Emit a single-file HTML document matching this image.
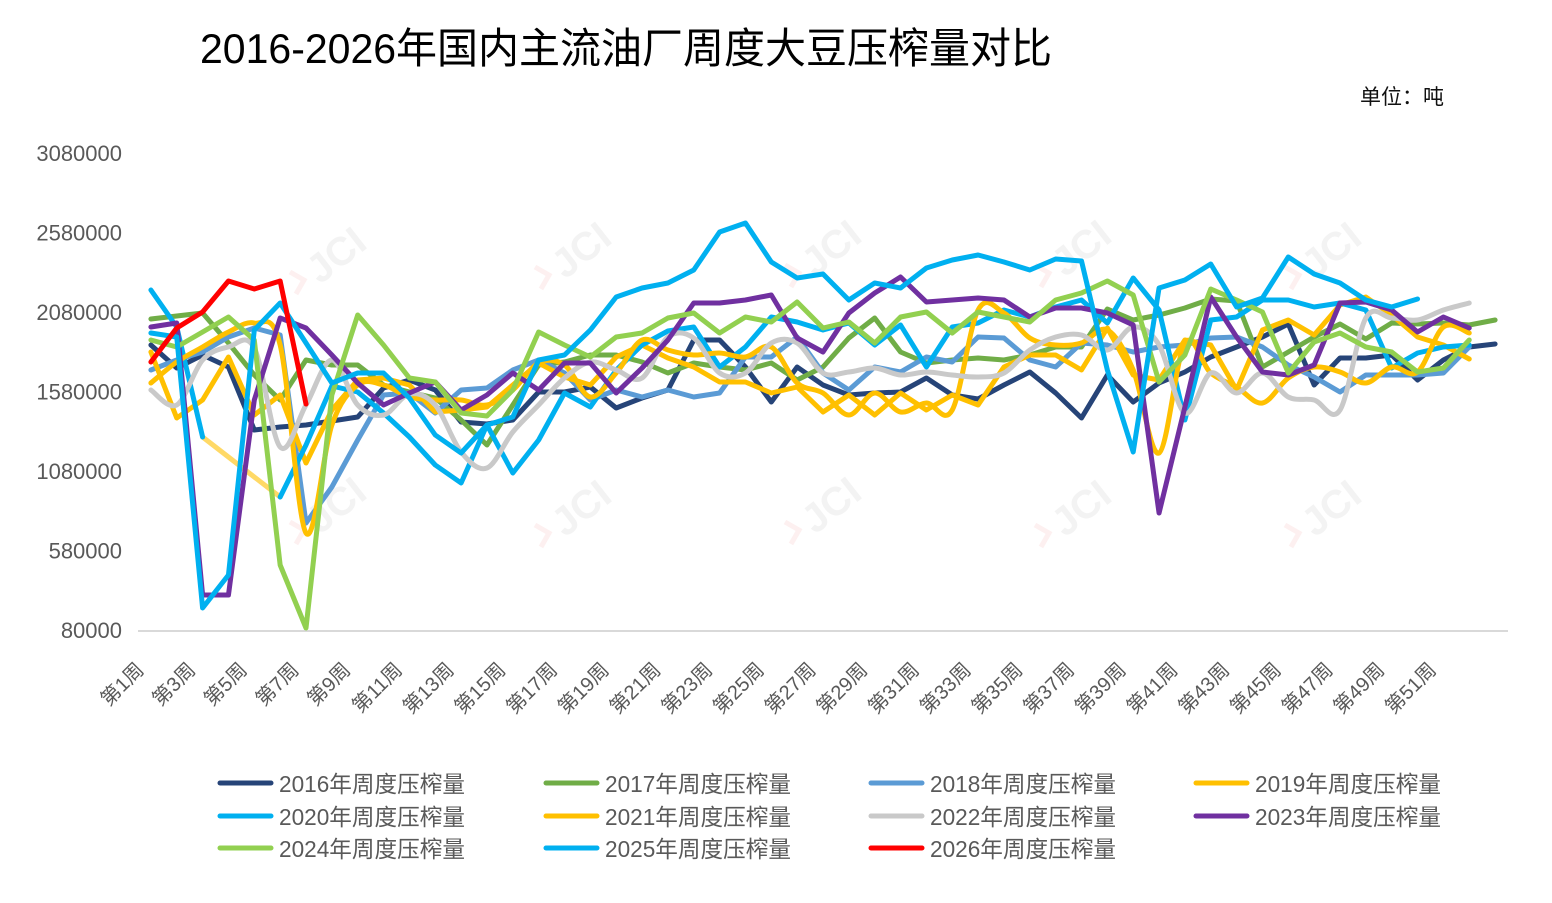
<!DOCTYPE html>
<html>
<head>
<meta charset="utf-8">
<style>
html,body{margin:0;padding:0;background:#fff;}
svg{display:block;}
text{font-family:"Liberation Sans","Noto Sans CJK SC",sans-serif;}
</style>
</head>
<body>
<svg width="1552" height="903" viewBox="0 0 1552 903" xmlns="http://www.w3.org/2000/svg">
<rect x="0" y="0" width="1552" height="903" fill="#fff"/>

<!-- Title -->
<text x="200" y="63" font-size="42" fill="#000" textLength="852" lengthAdjust="spacingAndGlyphs">2016-2026年国内主流油厂周度大豆压榨量对比</text>
<text x="1360" y="104" font-size="21" fill="#111">单位：吨</text>

<!-- watermarks -->
<g fill="#f3f3f3" font-size="40" font-weight="bold">
<text transform="translate(320,285) rotate(-38)">JCI</text>
<text transform="translate(565,280) rotate(-38)">JCI</text>
<text transform="translate(815,278) rotate(-38)">JCI</text>
<text transform="translate(1065,278) rotate(-38)">JCI</text>
<text transform="translate(1315,280) rotate(-38)">JCI</text>
<text transform="translate(320,535) rotate(-38)">JCI</text>
<text transform="translate(565,538) rotate(-38)">JCI</text>
<text transform="translate(815,535) rotate(-38)">JCI</text>
<text transform="translate(1065,538) rotate(-38)">JCI</text>
<text transform="translate(1315,538) rotate(-38)">JCI</text>
</g>
<g fill="none" stroke="#fdf0f0" stroke-width="5">
<path d="M290,272 l14,8 l-8,14"/><path d="M535,267 l14,8 l-8,14"/><path d="M785,265 l14,8 l-8,14"/><path d="M1035,265 l14,8 l-8,14"/><path d="M1285,267 l14,8 l-8,14"/>
<path d="M290,522 l14,8 l-8,14"/><path d="M535,525 l14,8 l-8,14"/><path d="M785,522 l14,8 l-8,14"/><path d="M1035,525 l14,8 l-8,14"/><path d="M1285,525 l14,8 l-8,14"/>
</g>

<!-- Y axis labels -->
<g font-size="22" fill="#595959" text-anchor="end">
<text x="122" y="161">3080000</text>
<text x="122" y="240.5">2580000</text>
<text x="122" y="320">2080000</text>
<text x="122" y="399.5">1580000</text>
<text x="122" y="479">1080000</text>
<text x="122" y="558.5">580000</text>
<text x="122" y="638">80000</text>
</g>

<!-- X axis line -->
<line x1="138" y1="631" x2="1508" y2="631" stroke="#d9d9d9" stroke-width="2"/>

<!-- X labels -->
<g font-size="20" fill="#595959" text-anchor="end">
<text transform="translate(145,671) rotate(-45)">第1周</text>
<text transform="translate(196.6,671) rotate(-45)">第3周</text>
<text transform="translate(248.3,671) rotate(-45)">第5周</text>
<text transform="translate(300,671) rotate(-45)">第7周</text>
<text transform="translate(351.7,671) rotate(-45)">第9周</text>
<text transform="translate(403.4,671) rotate(-45)">第11周</text>
<text transform="translate(455.1,671) rotate(-45)">第13周</text>
<text transform="translate(506.8,671) rotate(-45)">第15周</text>
<text transform="translate(558.5,671) rotate(-45)">第17周</text>
<text transform="translate(610.2,671) rotate(-45)">第19周</text>
<text transform="translate(661.9,671) rotate(-45)">第21周</text>
<text transform="translate(713.6,671) rotate(-45)">第23周</text>
<text transform="translate(765.3,671) rotate(-45)">第25周</text>
<text transform="translate(817,671) rotate(-45)">第27周</text>
<text transform="translate(868.7,671) rotate(-45)">第29周</text>
<text transform="translate(920.4,671) rotate(-45)">第31周</text>
<text transform="translate(972.1,671) rotate(-45)">第33周</text>
<text transform="translate(1023.8,671) rotate(-45)">第35周</text>
<text transform="translate(1075.5,671) rotate(-45)">第37周</text>
<text transform="translate(1127.2,671) rotate(-45)">第39周</text>
<text transform="translate(1178.9,671) rotate(-45)">第41周</text>
<text transform="translate(1230.6,671) rotate(-45)">第43周</text>
<text transform="translate(1282.3,671) rotate(-45)">第45周</text>
<text transform="translate(1334,671) rotate(-45)">第47周</text>
<text transform="translate(1385.7,671) rotate(-45)">第49周</text>
<text transform="translate(1437.4,671) rotate(-45)">第51周</text>
</g>

<!-- Series -->
<g transform="translate(125.05,0) scale(25.85,1)" fill="none" stroke-linejoin="round" stroke-linecap="round">
<polyline vector-effect="non-scaling-stroke" stroke="#264478" stroke-width="5" points="1,345 2,368 3,355 4,367 5,430 6,427 7,425 8,421 9,417 10,388 11,380 12,390 13,422 14,424 15,420 16,392 17,392 18,387 19,408 20,398 21,390 22,340 23,340 24,367 25,402 26,367 27,385 28,395 29,393 30,392 31,378 32,395 33,399 34,385 35,372 36,393 37,418 38,375 39,402 40,383 41,372 42,357 43,347 44,337 45,324 46,385 47,358 48,358 49,355 50,380 51,360 52,347 53,344"/>
<polyline vector-effect="non-scaling-stroke" stroke="#70AD47" stroke-width="5" points="1,319 2,316 3,313 4,343 5,375 6,400 7,360 8,365 9,365 10,385 11,392 12,398 13,420 14,445 15,405 16,365 17,362 18,355 19,355 20,362 21,373 22,363 23,367 24,370 25,363 26,380 27,367 28,338 29,318 30,352 31,363 32,360 33,358 34,360 35,355 36,347 37,347 38,309 39,320 40,315 41,308 42,299 43,301 44,367 45,352 46,337 47,324 48,339 49,323 50,324 51,323 52,325 53,320"/>
<polyline vector-effect="non-scaling-stroke" stroke="#5B9BD5" stroke-width="5" points="1,370 2,360 3,352 4,337 5,328 6,335 7,523 8,487 9,440 10,395 11,393 12,413 13,390 14,388 15,370 16,360 17,373 18,400 19,390 20,397 21,390 22,397 23,393 24,357 25,357 26,337 27,373 28,390 29,367 30,372 31,357 32,362 33,337 34,338 35,360 36,367 37,343 38,345 39,352 40,347 41,345 42,338 43,337 44,347 45,365 46,377 47,392 48,375 49,375 50,375 51,373 52,347"/>
<polyline vector-effect="non-scaling-stroke" stroke="#FFC000" stroke-width="5" points="1,352 2,418 3,400 4,357 5,415 6,395 7,463 8,410 9,380 10,378 11,385 12,412 13,410 14,407 15,385 16,363 17,377 18,385 19,357 20,345 21,358 22,367 23,382 24,382 25,393 26,387 27,412 28,395 29,415 30,393 31,410 32,395 33,405 34,367 35,355 36,355 37,370 38,328 39,375 40,380 41,340 42,345 43,390 44,330 45,320 46,335 47,305 48,297 49,315 50,337 51,345 52,359"/>
<polyline vector-effect="non-scaling-stroke" stroke="#FFD966" stroke-width="5" points="3,437 6,497"/>
<polyline vector-effect="non-scaling-stroke" stroke="#00B0F0" stroke-width="5" points="1,290 2,327 3,437"/>
<polyline vector-effect="non-scaling-stroke" stroke="#00B0F0" stroke-width="5" points="6,497 7,445 8,386 9,392 10,413 11,437 12,465 13,483 14,425 15,473 16,440 17,393 18,407 19,370 20,345 21,331 22,327 23,367 24,347 25,317 26,322 27,330 28,323 29,345 30,325 31,367 32,327 33,323 34,310 35,317 36,307 37,300 38,323 39,278 40,310 41,420 42,320 43,317 44,300 45,300 46,307 47,303 48,310 49,368 50,353 51,347 52,345"/>
<polyline class="sm" vector-effect="non-scaling-stroke" stroke="#FFC000" stroke-width="5" points="1,383 2,362 3,347 4,332 5,323 6,345 7,533 8,425 9,385 10,385 11,397 12,400 13,400 14,405 15,390 16,363 17,365 18,397 19,373 20,340 21,350 22,355 23,353 24,357 25,347 26,383 27,393 28,415 29,393 30,412 31,403 32,410 33,310 34,313 35,338 36,345 37,343 38,330 39,370 40,453 41,343 42,373 43,387 44,403 45,378 46,367 47,372 48,383 49,367 50,372 51,327 52,333"/>
<polyline class="sm" vector-effect="non-scaling-stroke" stroke="#C9C9C9" stroke-width="5" points="1,390 2,405 3,360 4,347 5,348 6,447 7,405 8,360 9,405 10,415 11,394 12,405 13,452 14,468 15,432 16,405 17,378 18,362 19,370 20,378 21,337 22,338 23,373 24,373 25,343 26,343 27,373 28,372 29,368 30,375 31,372 32,375 33,377 34,373 35,350 36,337 37,335 38,350 39,327 40,345 41,413 42,373 43,393 44,373 45,397 46,400 47,410 48,318 49,318 50,320 51,310 52,303"/>
<polyline vector-effect="non-scaling-stroke" stroke="#7030A0" stroke-width="5" points="1,327 2,323 3,595 4,595 5,400 6,318 7,328 8,355 9,383 10,405 11,393 12,382 13,410 14,395 15,373 16,390 17,363 18,363 19,393 20,368 21,340 22,303 23,303 24,300 25,295 26,338 27,352 28,313 29,293 30,277 31,302 32,300 33,298 34,300 35,317 36,308 37,308 38,313 39,325 40,513 41,407 42,297 43,337 44,372 45,375 46,365 47,303 48,302 49,310 50,332 51,317 52,328"/>
<polyline vector-effect="non-scaling-stroke" stroke="#92D050" stroke-width="5" points="1,340 2,347 3,332 4,317 5,340 6,565 7,628 8,395 9,315 10,345 11,378 12,382 13,413 14,416 15,390 16,332 17,345 18,357 19,337 20,333 21,318 22,313 23,333 24,317 25,322 26,302 27,328 28,322 29,343 30,317 31,312 32,333 33,312 34,317 35,322 36,300 37,293 38,281 39,295 40,382 41,355 42,289 43,300 44,312 45,373 46,342 47,333 48,347 49,352 50,372 51,368 52,340"/>
<polyline vector-effect="non-scaling-stroke" stroke="#00B0F0" stroke-width="5" points="1,333 2,337 3,608 4,575 5,330 6,303 7,343 8,383 9,373 10,373 11,398 12,435 13,453 14,425 15,417 16,360 17,355 18,330 19,297 20,288 21,283 22,270 23,232 24,223 25,262 26,278 27,274 28,300 29,283 30,288 31,268 32,260 33,255 34,262 35,270 36,259 37,261 38,370 39,452 40,288 41,280 42,264 43,307 44,298 45,257 46,274 47,283 48,300 49,307 50,299"/>
<polyline vector-effect="non-scaling-stroke" stroke="#FF0000" stroke-width="5" points="1,362 2,328 3,312 4,281 5,289 6,281 7,404"/>
</g>

<!-- Legend -->
<g stroke-width="5" stroke-linecap="round">
<line x1="220" y1="783" x2="271" y2="783" stroke="#264478"/>
<line x1="546" y1="783" x2="597" y2="783" stroke="#70AD47"/>
<line x1="871" y1="783" x2="922" y2="783" stroke="#5B9BD5"/>
<line x1="1196" y1="783" x2="1247" y2="783" stroke="#FFC000"/>
<line x1="220" y1="816" x2="271" y2="816" stroke="#00B0F0"/>
<line x1="546" y1="816" x2="597" y2="816" stroke="#FFC000"/>
<line x1="871" y1="816" x2="922" y2="816" stroke="#C9C9C9"/>
<line x1="1196" y1="816" x2="1247" y2="816" stroke="#7030A0"/>
<line x1="220" y1="848" x2="271" y2="848" stroke="#92D050"/>
<line x1="546" y1="848" x2="597" y2="848" stroke="#00B0F0"/>
<line x1="871" y1="848" x2="922" y2="848" stroke="#FF0000"/>
</g>
<g font-size="23" fill="#595959">
<text x="279" y="792" textLength="186" lengthAdjust="spacingAndGlyphs">2016年周度压榨量</text>
<text x="605" y="792" textLength="186" lengthAdjust="spacingAndGlyphs">2017年周度压榨量</text>
<text x="930" y="792" textLength="186" lengthAdjust="spacingAndGlyphs">2018年周度压榨量</text>
<text x="1255" y="792" textLength="186" lengthAdjust="spacingAndGlyphs">2019年周度压榨量</text>
<text x="279" y="825" textLength="186" lengthAdjust="spacingAndGlyphs">2020年周度压榨量</text>
<text x="605" y="825" textLength="186" lengthAdjust="spacingAndGlyphs">2021年周度压榨量</text>
<text x="930" y="825" textLength="186" lengthAdjust="spacingAndGlyphs">2022年周度压榨量</text>
<text x="1255" y="825" textLength="186" lengthAdjust="spacingAndGlyphs">2023年周度压榨量</text>
<text x="279" y="857" textLength="186" lengthAdjust="spacingAndGlyphs">2024年周度压榨量</text>
<text x="605" y="857" textLength="186" lengthAdjust="spacingAndGlyphs">2025年周度压榨量</text>
<text x="930" y="857" textLength="186" lengthAdjust="spacingAndGlyphs">2026年周度压榨量</text>
</g>
</svg>
<script>
(function(){
  var ns='http://www.w3.org/2000/svg';
  var list=document.querySelectorAll('polyline.sm');
  for(var k=0;k<list.length;k++){
    var pl=list[k];
    var pts=pl.getAttribute('points').trim().split(/\s+/).map(function(s){var a=s.split(',');return [+a[0],+a[1]];});
    var d='M'+pts[0][0]+','+pts[0][1];
    var t=1/6;
    for(var i=0;i<pts.length-1;i++){
      var p0=pts[i-1]||pts[i],p1=pts[i],p2=pts[i+1],p3=pts[i+2]||pts[i+1];
      d+=' C'+(p1[0]+(p2[0]-p0[0])*t)+','+(p1[1]+(p2[1]-p0[1])*t)+' '+(p2[0]-(p3[0]-p1[0])*t)+','+(p2[1]-(p3[1]-p1[1])*t)+' '+p2[0]+','+p2[1];
    }
    var path=document.createElementNS(ns,'path');
    path.setAttribute('d',d);
    path.setAttribute('fill','none');
    path.setAttribute('stroke',pl.getAttribute('stroke'));
    path.setAttribute('stroke-width',pl.getAttribute('stroke-width'));
    path.setAttribute('vector-effect','non-scaling-stroke');
    path.setAttribute('stroke-linejoin','round');
    path.setAttribute('stroke-linecap','round');
    pl.parentNode.replaceChild(path,pl);
  }
})();
</script>
</body>
</html>
